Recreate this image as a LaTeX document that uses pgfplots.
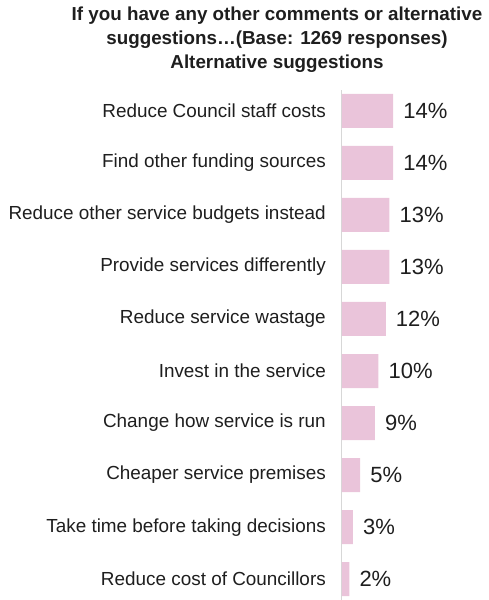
\documentclass[border=0pt]{standalone}
\usepackage{pgfplots}
\pgfplotsset{compat=1.18}
\usepackage{fontspec}
\setmainfont{Liberation Sans}
\definecolor{barpink}{RGB}{234,196,218}
\definecolor{axgray}{RGB}{215,215,215}
\definecolor{txt}{RGB}{30,30,30}
\begin{document}
\begin{tikzpicture}
\useasboundingbox (0,0) rectangle (488pt,600pt);
\node[font=\bfseries\fontsize{18.8}{24}\selectfont, text=txt, align=center, anchor=north, inner sep=0pt] at (277pt,593pt) {If you have any other comments or alternative\\suggestions\ldots(Base: 1269 responses)\\Alternative suggestions};
\begin{axis}[
  at={(342pt,0pt)}, anchor=south west,
  scale only axis, width=146pt, height=510pt,
  xbar, bar width=34pt,
  xmin=0, xmax=40,
  ymin=-0.4, ymax=9.4, y dir=reverse,
  axis x line=none,
  axis y line*=left,
  y axis line style={axgray, line width=1pt, -},
  ytick={0,...,9},
  major tick length=0pt,
  yticklabels={Reduce Council staff costs, Find other funding sources, Reduce other service budgets instead, Provide services differently, Reduce service wastage, Invest in the service, Change how service is run, Cheaper service premises, Take time before taking decisions, Reduce cost of Councillors},
  yticklabel style={font=\fontsize{18.9}{21}\selectfont, text=txt, inner sep=0pt, xshift=-16pt},
  /pgf/number format/assume math mode=true,
  nodes near coords={\pgfmathprintnumber{\pgfplotspointmeta}\%},
  every node near coord/.append style={anchor=west, font=\fontsize{22}{24}\selectfont, text=txt, inner sep=0pt, xshift=10pt},
  clip=false,
]
\addplot[fill=barpink, draw=none] coordinates {
(14,0) (14,1) (13,2) (13,3) (12,4) (10,5) (9,6) (5,7) (3,8) (2,9)
};
\end{axis}
\end{tikzpicture}
\end{document}
